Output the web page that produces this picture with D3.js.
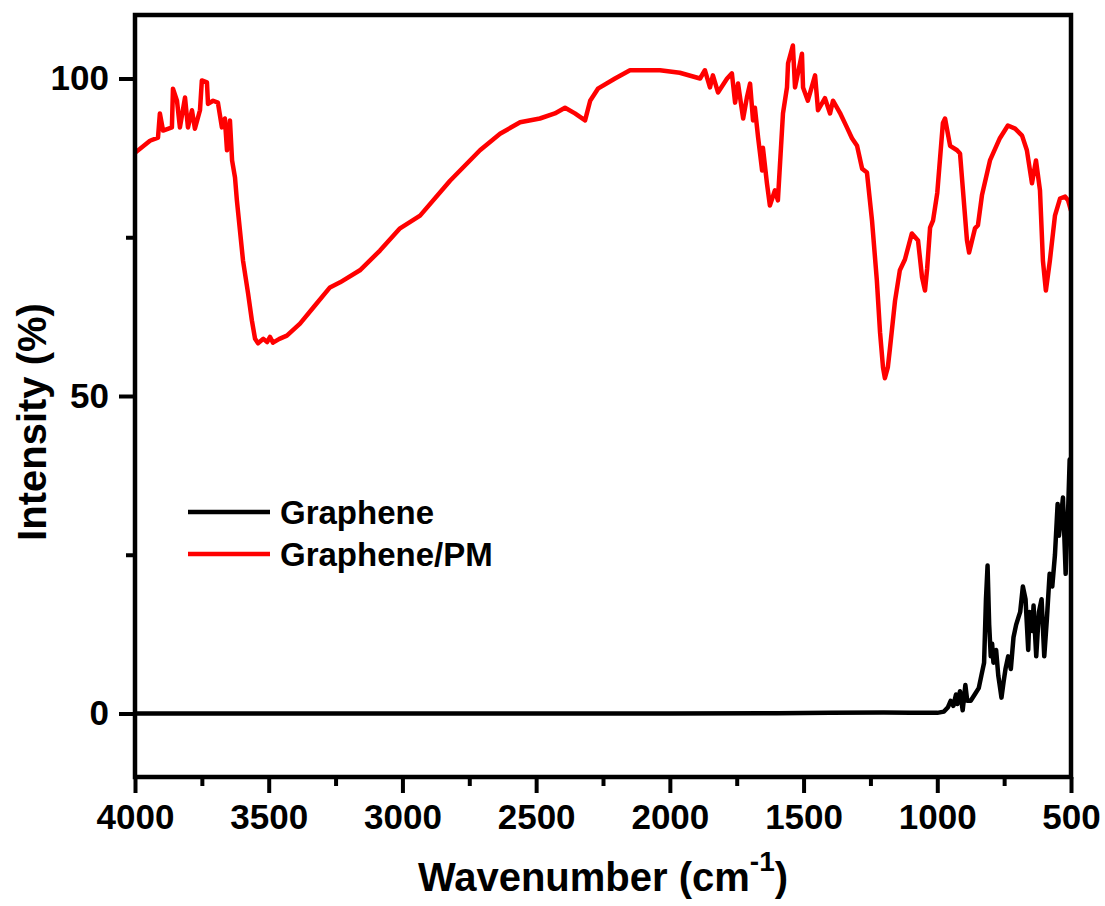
<!DOCTYPE html>
<html>
<head>
<meta charset="utf-8">
<script src="https://cdn.jsdelivr.net/npm/d3@7"></script>
<style>
  html, body { margin: 0; padding: 0; background: #fff; }
  svg { display: block; font-family: "Liberation Sans", Arial, sans-serif; font-weight: bold; }
</style>
</head>
<body>
<svg id="chart" width="1105" height="906"></svg>
<script>
// ---- Data ----
const seriesNames = ["Graphene", "Graphene/PM"];
const seriesColors = ["#000000", "#ff0000"];

// Graphene: [wavenumber, intensity]
const grapheneWave = [4000, 3500, 3000, 2500, 2000, 1600, 1400, 1200, 1100, 1000, 975, 960, 950, 940, 930, 925, 915, 905, 895, 888, 875, 860, 845, 835, 825, 818, 812, 806, 800, 795, 790, 780, 772, 765, 760, 752, 745, 735, 725, 715, 705, 690, 680, 670, 660, 655, 645, 640, 630, 620, 610, 600, 590, 580, 570, 560, 550, 545, 540, 530, 520, 510, 505, 500];
const grapheneVals = [0, 0, 0, 0, 0, 0.05, 0.1, 0.15, 0.1, 0.1, 0.3, 1.0, 2.0, 1.2, 3.0, 1.5, 3.5, 0.5, 4.5, 2.0, 2.0, 3.0, 4.0, 6.0, 8.0, 18, 23.3, 14, 9, 11, 8, 10, 6, 4, 2.5, 5, 7, 9, 7, 12, 14, 16, 20, 18, 10, 16, 13, 17, 9, 16, 18, 9, 15, 22, 20, 25, 33, 28, 30, 34, 22, 33, 40, 37];

// Graphene/PM
const pmWave = [4000, 3944, 3914, 3907, 3895, 3862, 3858, 3843, 3832, 3813, 3802, 3787, 3776, 3757, 3750, 3731, 3727, 3708, 3690, 3675, 3664, 3656, 3645, 3637, 3626, 3619, 3596, 3577, 3563, 3551, 3540, 3520, 3506, 3495, 3484, 3460, 3432, 3383, 3334, 3271, 3233, 3159, 3084, 3009, 2934, 2822, 2710, 2635, 2560, 2486, 2430, 2392, 2355, 2317, 2298, 2269, 2205, 2149, 2037, 1963, 1887, 1869, 1850, 1839, 1820, 1786, 1768, 1756, 1745, 1726, 1712, 1700, 1689, 1682, 1670, 1655, 1652, 1637, 1626, 1607, 1596, 1577, 1562, 1558, 1540, 1532, 1506, 1502, 1484, 1457, 1446, 1420, 1401, 1390, 1364, 1338, 1319, 1300, 1281, 1263, 1244, 1226, 1214, 1203, 1196, 1185, 1177, 1158, 1140, 1121, 1095, 1072, 1057, 1046, 1038, 1027, 1016, 1000, 979, 971, 952, 926, 915, 904, 889, 881, 870, 859, 848, 833, 803, 766, 736, 709, 683, 665, 646, 631, 616, 605, 594, 579, 560, 541, 522, 511, 500];
const pmVals = [88.3, 90.2, 90.7, 94.5, 91.8, 92.3, 98.4, 96.5, 92.3, 97.0, 92.3, 95.0, 92.1, 95.0, 99.7, 99.4, 96.0, 96.5, 96.2, 92.3, 93.7, 88.7, 93.4, 87.1, 84.4, 80.8, 71.3, 66.1, 61.9, 59.0, 58.3, 59.0, 58.5, 59.3, 58.4, 59.0, 59.5, 61.4, 63.9, 67.1, 67.9, 69.8, 72.9, 76.4, 78.4, 83.9, 88.7, 91.3, 93.1, 93.7, 94.5, 95.4, 94.5, 93.4, 96.5, 98.4, 100.0, 101.3, 101.3, 100.9, 100.0, 101.3, 98.6, 100.5, 97.8, 100.0, 100.8, 96.2, 99.2, 93.7, 97.0, 99.2, 93.4, 95.4, 90.7, 85.5, 89.1, 83.5, 80.0, 82.4, 80.8, 94.5, 98.6, 102.4, 105.2, 98.6, 103.9, 98.6, 96.5, 100.5, 95.0, 96.9, 94.5, 96.5, 94.6, 92.3, 90.6, 89.4, 85.8, 85.2, 77.6, 68.2, 60.0, 54.5, 52.8, 54.5, 57.5, 65.0, 69.8, 71.5, 75.6, 74.5, 68.7, 66.6, 70.0, 76.5, 77.6, 82.0, 93.0, 93.7, 89.4, 88.7, 88.2, 82.4, 74.5, 72.6, 74.5, 76.4, 76.9, 81.6, 87.1, 90.6, 92.6, 92.1, 91.0, 88.7, 83.5, 87.1, 82.4, 71.3, 66.6, 71.3, 78.4, 81.1, 81.4, 80.8, 79.2];

const xTicks = [4000, 3500, 3000, 2500, 2000, 1500, 1000, 500];
const xMinorTicks = [3750, 3250, 2750, 2250, 1750, 1250, 750];
const yTicks = [0, 50, 100];
const yMinorTicks = [25, 75];
const xTitle = "Wavenumber (cm";
const xTitleSup = "-1";
const yTitle = "Intensity (%)";

// ---- Layout ----
const svg = d3.select("#chart");
const L = 135, R = 1071, T = 15, B = 777;

const x = d3.scaleLinear().domain([4000, 500]).range([L, R]);
const y = d3.scaleLinear().domain([-10, 110]).range([B, T]);

const g = svg.append("g");

const fmt = d3.format("d");
const xAxis = d3.axisBottom(x).tickValues(xTicks).tickSize(16).tickSizeOuter(0).tickPadding(11).tickFormat(fmt);
const xMinor = d3.axisBottom(x).tickValues(xMinorTicks).tickSize(9).tickSizeOuter(0).tickFormat("");
const yAxis = d3.axisLeft(y).tickValues(yTicks).tickSize(16).tickSizeOuter(0).tickPadding(10).tickFormat(fmt);
const yMinor = d3.axisLeft(y).tickValues(yMinorTicks).tickSize(9).tickSizeOuter(0).tickFormat("");

function styleAxis(sel) {
  sel.select(".domain").remove();
  sel.selectAll("line").attr("stroke", "#000").attr("stroke-width", 4);
  sel.selectAll("text").attr("fill", "#000").style("font-size", "35px").style("font-weight", "bold")
     .style("font-family", '"Liberation Sans", Arial, sans-serif');
}

g.append("g").attr("transform", `translate(0,${B})`).call(xAxis).call(styleAxis);
g.append("g").attr("transform", `translate(0,${B})`).call(xMinor).call(styleAxis);
g.append("g").attr("transform", `translate(${L},0)`).call(yAxis).call(styleAxis);
g.append("g").attr("transform", `translate(${L},0)`).call(yMinor).call(styleAxis);

// Lines
const line = d3.line().x(d => x(d[0])).y(d => y(d[1]));
svg.append("clipPath").attr("id", "clip").append("rect")
  .attr("x", L).attr("y", T).attr("width", R - L).attr("height", B - T);

const grapheneData = grapheneWave.map((w, i) => [w, grapheneVals[i]]);
const pmData = pmWave.map((w, i) => [w, pmVals[i]]);

g.append("path").datum(grapheneData).attr("clip-path", "url(#clip)")
  .attr("fill", "none").attr("stroke", seriesColors[0]).attr("stroke-width", 4.5)
  .attr("stroke-linejoin", "round").attr("d", line);
g.append("path").datum(pmData).attr("clip-path", "url(#clip)")
  .attr("fill", "none").attr("stroke", seriesColors[1]).attr("stroke-width", 4.5)
  .attr("stroke-linejoin", "round").attr("d", line);

// Frame
g.append("rect").attr("x", L).attr("y", T).attr("width", R - L).attr("height", B - T)
  .attr("fill", "none").attr("stroke", "#000").attr("stroke-width", 4.5);

// Legend
const legend = g.append("g");
seriesNames.forEach((name, i) => {
  const ly = 512 + i * 42;
  legend.append("line").attr("x1", 188).attr("x2", 270).attr("y1", ly).attr("y2", ly)
    .attr("stroke", seriesColors[i]).attr("stroke-width", 4.5);
  legend.append("text").attr("x", 280).attr("y", ly + 12).text(name)
    .style("font-size", "33px").attr("fill", "#000");
});

// Axis titles
const xt = g.append("text").attr("x", (L + R) / 2).attr("y", 891).attr("text-anchor", "middle")
  .style("font-size", "40px").attr("fill", "#000");
xt.append("tspan").text(xTitle);
xt.append("tspan").text(xTitleSup).attr("dy", -20).style("font-size", "28px");
xt.append("tspan").text(")").attr("dy", 20);

g.append("text").attr("transform", `translate(46,${(T + B) / 2 + 26}) rotate(-90)`)
  .attr("text-anchor", "middle").style("font-size", "40px").attr("fill", "#000").text(yTitle);
</script>
</body>
</html>
